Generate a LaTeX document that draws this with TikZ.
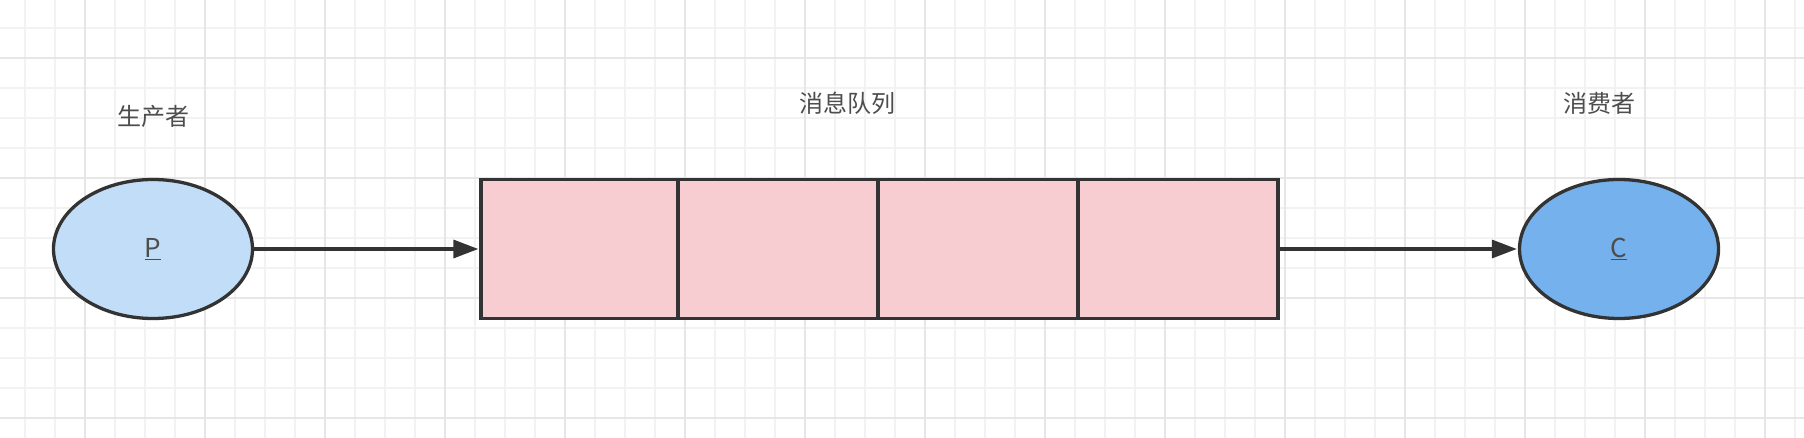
\documentclass[tikz,border=0pt]{standalone}
\usepackage{fontspec}
\setmainfont{Noto Sans CJK SC}
\usetikzlibrary{arrows.meta,shapes.geometric}
\definecolor{gridminor}{HTML}{F2F2F2}
\definecolor{gridmajor}{HTML}{E6E6E6}
\definecolor{stroke}{HTML}{333333}
\definecolor{pfill}{HTML}{C2DDF7}
\definecolor{cfill}{HTML}{75B1EC}
\definecolor{qfill}{HTML}{F7CDD2}
\definecolor{txt}{HTML}{4D4D4D}
\tikzset{
  actor/.style={ellipse, draw=stroke, line width=3.3pt, minimum width=199pt, minimum height=139pt, inner sep=0pt, text=txt, font=\fontsize{26}{28}\selectfont},
  cell/.style={rectangle, draw=stroke, line width=3.3pt, fill=qfill, minimum height=139pt, inner sep=0pt},
  caption/.style={text=txt, font=\fontsize{24}{28}\selectfont, inner sep=0pt},
  flow/.style={draw=stroke, line width=3.3pt, -{Triangle[length=25pt,width=18pt]}, shorten >=1pt}
}
\begin{document}
\begin{tikzpicture}[x=1pt,y=-1pt]
  \useasboundingbox (0,0) rectangle (1804,438);
  \fill[white] (0,0) rectangle (1804,438);
  % grid
  \foreach \gx in {25,55,...,1795} \draw[gridminor, line width=1.2pt] (\gx,0) -- (\gx,438);
  \foreach \gy in {28,58,...,418} \draw[gridminor, line width=1.2pt] (0,\gy) -- (1804,\gy);
  \foreach \gx in {85,205,...,1765} \draw[gridmajor, line width=1.4pt] (\gx,0) -- (\gx,438);
  \foreach \gy in {58,178,298,418} \draw[gridmajor, line width=1.4pt] (0,\gy) -- (1804,\gy);
  % queue cells
  \node[cell, minimum width=197pt] (q1) at (579.5,249) {};
  \node[cell, minimum width=200pt] (q2) at (778,249) {};
  \node[cell, minimum width=200pt] (q3) at (978,249) {};
  \node[cell, minimum width=200pt] (q4) at (1178,249) {};
  \coordinate (qin) at (q1.west);
  \coordinate (qout) at (q4.east);
  % actors
  \node[actor, fill=pfill] (P) at (153,249) {\underline{P}};
  \node[actor, fill=cfill] (C) at (1619,249) {\underline{C}};
  % captions
  \node[caption] (lp) at (153,116) {生产者};
  \node[caption] (lq) at (847,103.5) {消息队列};
  \node[caption] (lc) at (1599,103.5) {消费者};
  % connectors
  \draw[flow] (P.east) -- (qin);
  \draw[flow] (qout) -- (C.west);
\end{tikzpicture}
\end{document}
